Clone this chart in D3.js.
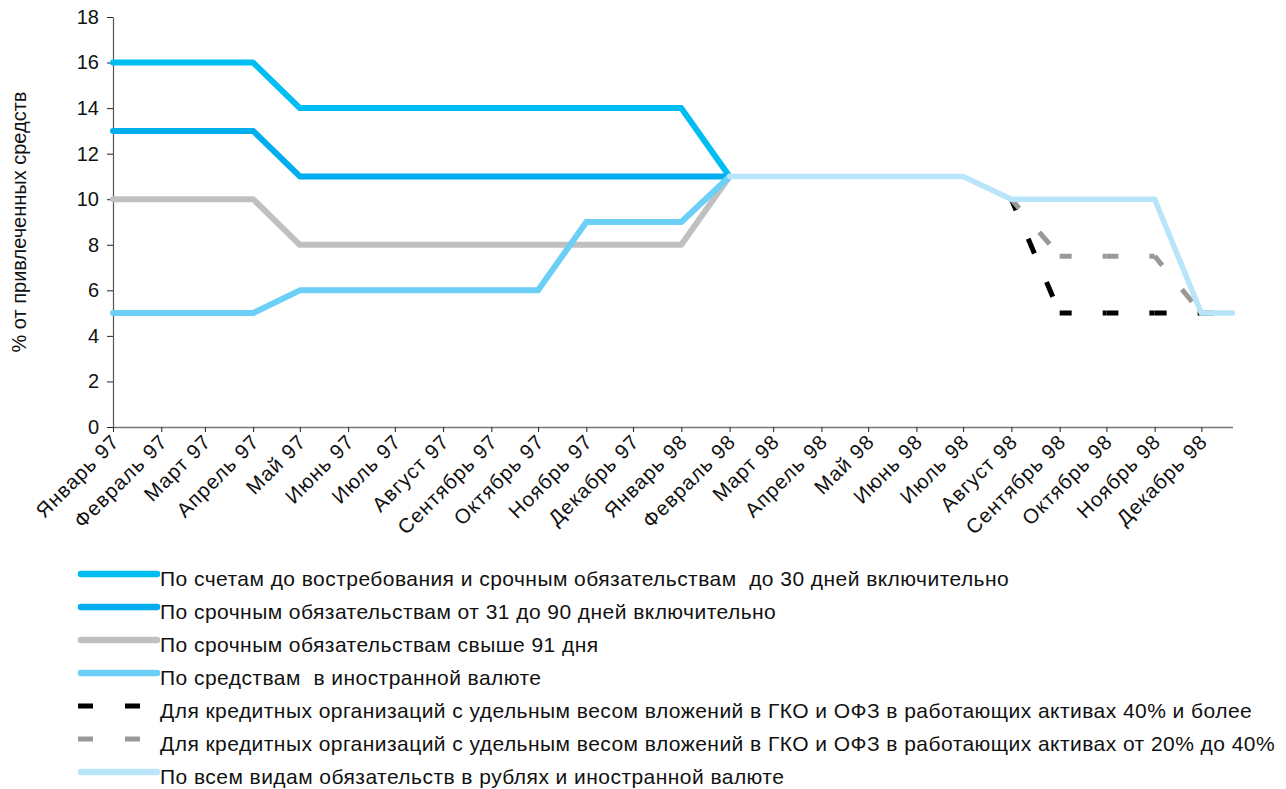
<!DOCTYPE html>
<html>
<head>
<meta charset="utf-8">
<script src="https://cdn.jsdelivr.net/npm/d3@7"></script>
<style>
  html, body { margin: 0; padding: 0; background: #fff; }
  svg { display: block; font-family: "Liberation Sans", Arial, Helvetica, sans-serif; }
  text { white-space: pre; }
</style>
</head>
<body>
<svg id="chart" width="1286" height="789"></svg>
<script>
// ---- Data ----
const tickLabels = ["Январь 97","Февраль 97","Март 97","Апрель 97","Май 97","Июнь 97","Июль 97","Август 97",
  "Сентябрь 97","Октябрь 97","Ноябрь 97","Декабрь 97","Январь 98","Февраль 98","Март 98","Апрель 98",
  "Май 98","Июнь 98","Июль 98","Август 98","Сентябрь 98","Октябрь 98","Ноябрь 98","Декабрь 98"];
const pointDates = ["1997-01-01","1997-02-01","1997-03-01","1997-04-01","1997-05-01","1997-06-01","1997-07-01","1997-08-01",
  "1997-09-01","1997-10-01","1997-11-01","1997-12-01","1998-01-01","1998-02-01","1998-03-01","1998-04-01",
  "1998-05-01","1998-06-01","1998-07-01","1998-08-01","1998-09-01","1998-10-01","1998-11-01","1998-12-01","1998-12-21"];
const yTicks = [0,2,4,6,8,10,12,14,16,18];

const s1 = [16,16,16,16,14,14,14,14,14,14,14,14,14,11,null,null,null,null,null,null,null,null,null,null,null];
const s2 = [13,13,13,13,11,11,11,11,11,11,11,11,11,11,null,null,null,null,null,null,null,null,null,null,null];
const s3 = [10,10,10,10,8,8,8,8,8,8,8,8,8,11,null,null,null,null,null,null,null,null,null,null,null];
const s4 = [5,5,5,5,6,6,6,6,6,6,9,9,9,11,null,null,null,null,null,null,null,null,null,null,null];
const s5 = [null,null,null,null,null,null,null,null,null,null,null,null,null,null,null,null,null,null,null,10,5,5,5,5,5];
const s6 = [null,null,null,null,null,null,null,null,null,null,null,null,null,null,null,null,null,null,null,10,7.5,7.5,7.5,5,5];
const s7 = [null,null,null,null,null,null,null,null,null,null,null,null,null,11,11,11,11,11,11,10,10,10,10,5,5];

const seriesNames = [
  "По счетам до востребования и срочным обязательствам  до 30 дней включительно",
  "По срочным обязательствам от 31 до 90 дней включительно",
  "По срочным обязательствам свыше 91 дня",
  "По средствам  в иностранной валюте",
  "Для кредитных организаций с удельным весом вложений в ГКО и ОФЗ в работающих активах 40% и более",
  "Для кредитных организаций с удельным весом вложений в ГКО и ОФЗ в работающих активах от 20% до 40%",
  "По всем видам обязательств в рублях и иностранной валюте"
];
const seriesValues = [s1, s2, s3, s4, s5, s6, s7];
const seriesColors = ["#00BDF2", "#00ADEF", "#C0C0C0", "#6CCFF6", "#000000", "#999999", "#B9E5FB"];
const seriesDashed = [false, false, false, false, true, true, false];

// ---- Layout ----
const svg = d3.select("#chart");
const parse = d3.utcParse("%Y-%m-%d");
const dates = pointDates.map(parse);

const x = d3.scaleUtc().domain([dates[0], dates[dates.length - 1]]).range([113, 1232.5]);
const y = d3.scaleLinear().domain([0, 18]).range([427, 17]);

// Axes
const xAxis = d3.axisBottom(x)
  .tickValues(dates.slice(0, tickLabels.length))
  .tickSize(5).tickSizeOuter(0)
  .tickFormat((d, i) => tickLabels[i]);
const gx = svg.append("g").attr("transform", `translate(0,${y(0)})`).call(xAxis);
gx.select(".domain").attr("stroke", "#777").attr("stroke-width", 1.5);
gx.selectAll(".tick line").attr("stroke", "#222");
gx.selectAll(".tick text")
  .attr("font-size", 20.5).attr("letter-spacing", 1).attr("fill", "#111")
  .attr("text-anchor", "end")
  .attr("x", 0).attr("y", 0).attr("dy", 0)
  .attr("transform", "translate(7,16) rotate(-45)");

const yAxis = d3.axisLeft(y).tickValues(yTicks).tickSize(6).tickSizeOuter(0).tickPadding(8);
const gy = svg.append("g").attr("transform", `translate(${x(dates[0])},0)`).call(yAxis);
gy.select(".domain").attr("stroke", "#555").attr("stroke-width", 1.2);
gy.selectAll(".tick line").attr("stroke", "#222");
gy.selectAll(".tick text").attr("font-size", 20).attr("fill", "#111");

svg.append("text")
  .attr("transform", `translate(26,222) rotate(-90)`)
  .attr("text-anchor", "middle")
  .attr("font-size", 20).attr("fill", "#111")
  .text("% от привлеченных средств");

// Lines
const line = d3.line()
  .defined(d => d.v !== null)
  .x(d => x(d.date)).y(d => y(d.v));

const plot = svg.append("g");
seriesValues.forEach((vals, si) => {
  const pts = vals.map((v, i) => ({ date: dates[i], v }));
  if (!seriesDashed[si]) {
    plot.append("path")
      .datum(pts)
      .attr("d", line)
      .attr("fill", "none")
      .attr("stroke", seriesColors[si])
      .attr("stroke-width", si === 6 ? 5.5 : 6)
      .attr("stroke-linejoin", "round")
      .attr("stroke-linecap", "round");
  } else {
    // dashed series: pattern restarts on every segment
    const defined = pts.filter(p => p.v !== null);
    const segs = d3.pairs(defined);
    plot.append("g").selectAll("path")
      .data(segs)
      .join("path")
      .attr("d", d => line(d))
      .attr("fill", "none")
      .attr("stroke", seriesColors[si])
      .attr("stroke-width", 5)
      .attr("stroke-dasharray", "16,31")
      .attr("stroke-dashoffset", 4);
  }
});

// Legend
const legend = svg.append("g");
seriesNames.forEach((name, i) => {
  const cy = 574 + i * 33;
  const g = legend.append("g").attr("transform", `translate(0,${cy})`);
  if (seriesDashed[i]) {
    g.append("line").attr("x1", 78).attr("x2", 158).attr("y1", 0).attr("y2", 0)
      .attr("stroke", seriesColors[i]).attr("stroke-width", 5)
      .attr("stroke-dasharray", "15,32");
  } else {
    g.append("line").attr("x1", 81).attr("x2", 157).attr("y1", 0).attr("y2", 0)
      .attr("stroke", seriesColors[i]).attr("stroke-width", 6.5)
      .attr("stroke-linecap", "round");
  }
  g.append("text").attr("x", 160).attr("y", 12)
    .attr("font-size", 21).attr("letter-spacing", 0.45).attr("fill", "#111")
    .text(name);
});
</script>
</body>
</html>
